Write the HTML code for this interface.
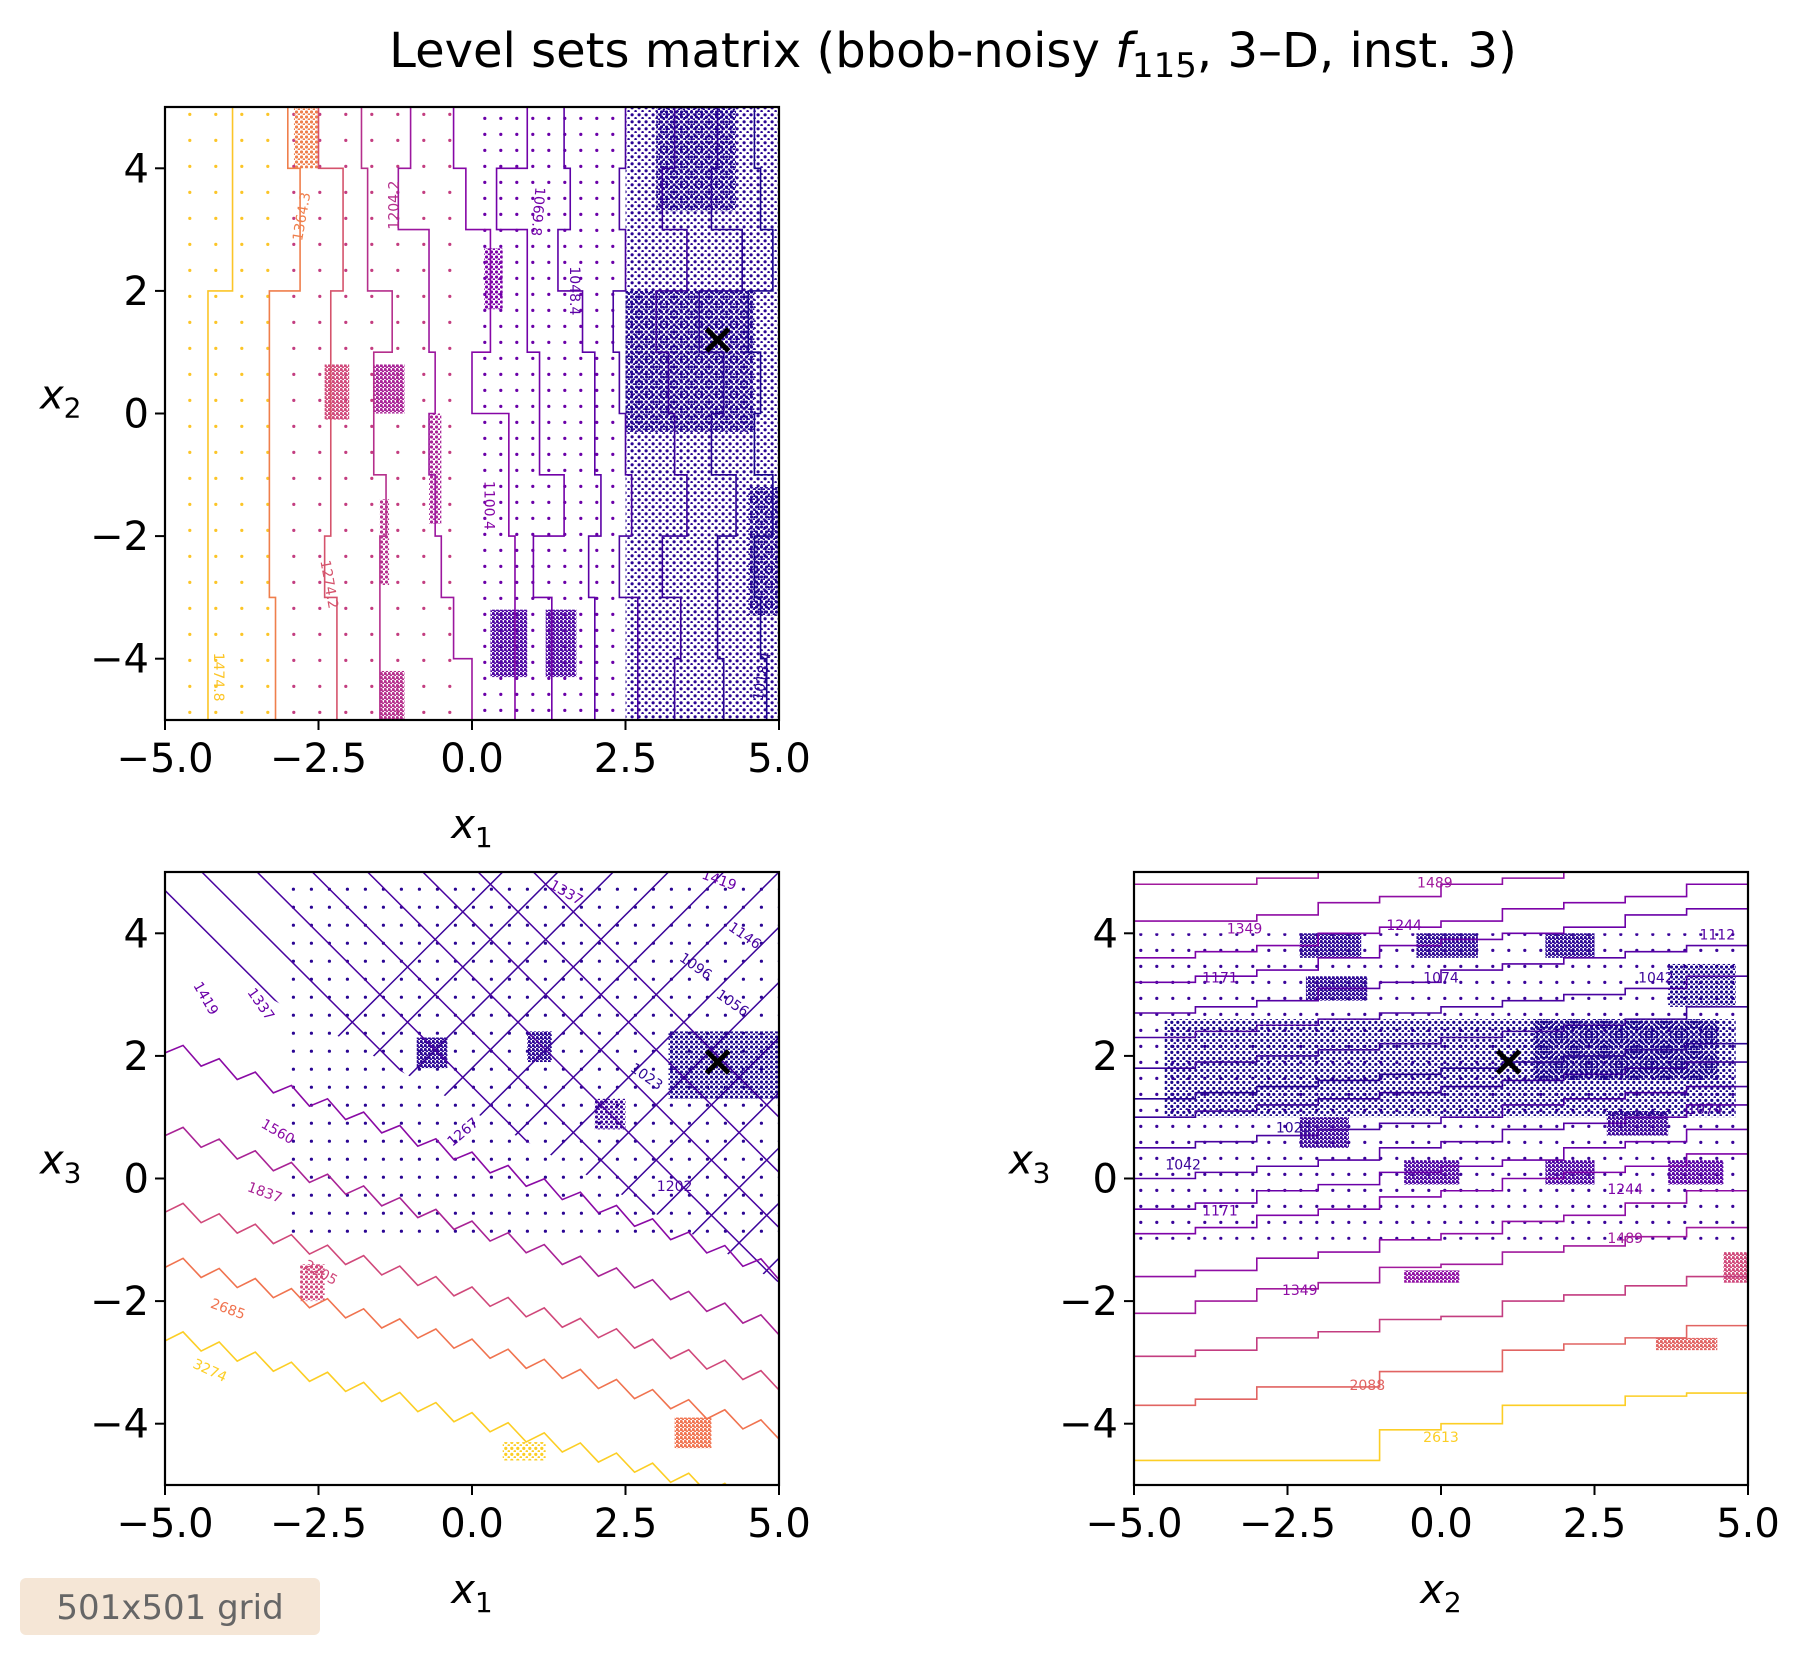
<!DOCTYPE html>
<html><head><meta charset="utf-8"><style>
html,body{margin:0;padding:0;background:#fff;overflow:hidden}
body{width:1810px;height:1654px;position:relative;overflow:hidden;font-family:"DejaVu Sans","Liberation Sans",sans-serif}
svg{display:block}
</style></head><body>
<svg id="fig" width="1810" height="1654" viewBox="0 0 1810 1654" xmlns="http://www.w3.org/2000/svg" font-family="DejaVu Sans, Liberation Sans, sans-serif">
<text x="953" y="67" font-size="48" text-anchor="middle">Level sets matrix (bbob-noisy <tspan font-style="italic">f</tspan><tspan font-size="34" dy="10">115</tspan><tspan dy="-10">, 3–D, inst. 3)</tspan></text>
<g id="panels"></g>
<rect x="20" y="1578" width="300" height="57" rx="6" fill="#f5e6d6"/>
<text x="170" y="1619" font-size="34" fill="#666" text-anchor="middle">501x501 grid</text>
</svg>
<script>
const NS="http://www.w3.org/2000/svg";
// ---- data ----
const ticks=[-5,-2.5,0,2.5,5];
const yticks=[4,2,0,-2,-4];
const tickLabels=["−5.0","−2.5","0.0","2.5","5.0"];
const ytickLabels=["4","2","0","−2","−4"];
// panel A (x1 vs x2): contour x-values per y band (top to bottom)
const aLevels=[1474.8,1364.3,1274.2,1204.2,1150,1100.4,1069.8,1048.4,1030,1015,1010,1005];
const aColors=["#fcc527","#ef7f4c","#d5536c","#b52f8c","#9c179e","#8606a6","#7201a8","#5c01a6","#4903a0","#3a049a","#2a0593","#1c068d"];
const aXs=[
[-3.9,-3.9,-3.9,-4.3,-4.3,-4.3,-4.3,-4.3,-4.3,-4.3],
[-3.0,-2.8,-2.8,-3.3,-3.3,-3.3,-3.3,-3.3,-3.2,-3.2],
[-2.5,-2.1,-2.1,-2.3,-2.3,-2.3,-2.3,-2.4,-2.2,-2.2],
[-1.8,-1.7,-1.7,-1.3,-1.6,-1.6,-1.4,-1.5,-1.5,-1.5],
[-1.0,-1.2,-0.7,-0.7,-0.6,-0.7,-0.6,-0.5,-0.3,0.0],
[-0.3,-0.1,0.3,0.3,0.0,0.6,0.6,0.7,0.7,0.7],
[0.9,0.4,0.9,0.9,1.1,1.1,1.5,1.0,1.3,1.3],
[1.5,1.6,1.4,1.8,2.0,2.0,2.1,1.9,2.0,2.0],
[2.5,2.4,2.5,2.3,2.4,2.5,2.6,2.4,2.7,2.7],
[3.3,3.1,3.5,3.0,3.2,3.3,3.5,3.1,3.4,3.3],
[4.0,3.9,4.4,3.7,4.1,3.9,4.3,4.0,4.0,4.1],
[4.6,4.7,4.9,4.5,4.7,4.6,4.9,4.6,4.7,4.8]];
const aBlocks=[[2.5,5,-5,5,"#2a0593",7],[3,4.3,3.3,5,"#1c068d",5],[2.5,4.6,-0.3,2,"#1c068d",5],[4.5,5,-3.3,-1.2,"#1c068d",5],
[0.3,0.9,-4.3,-3.2,"#4b03a1",4],[1.2,1.7,-4.3,-3.2,"#4b03a1",4],[-2.4,-2.0,-0.1,0.8,"#d0487a",4],[-1.6,-1.1,0,0.8,"#a82296",4],
[-1.5,-1.1,-5,-4.2,"#b52f8c",4],[-2.9,-2.5,4,5,"#ef7f4c",5],[0.2,0.5,1.7,2.7,"#7d03a8",5],[-0.7,-0.5,-1.8,0,"#a82296",5],
[-1.5,-1.35,-2.8,-1.4,"#b52f8c",5],[0,2.5,-5,5,"#6a00a8",16],[-3,0,-5,5,"#c33d80",26],[-5,-3,-5,5,"#fcc527",26]];
// panel B (x1 vs x3): zigzag lower contours
const bLevels=[3274,2685,2205,1837,1560];
const bColors=["#fcce25","#f0734f","#d0487a","#a92395","#8a0aa5"];
const bLeft=[-2.6,-1.4,-0.5,0.75,2.1];
const bRight=[-5.4,-4.2,-3.4,-2.5,-1.6];
const bDiagUp=[-9,-8.1,-7.2,-6.3,-5.4,-4.5,-3.6,-2.7,-1.8,-0.9,0,0.9,1.8,2.7,3.6,4.5];
const bDiagDown=[-2.5,-1.6,-0.7,0.2,1.1,2,2.9,3.8,4.7,5.6,6.5,7.4,8.3,9.2,10.1,11];
const bBlocks=[[3.2,5,1.3,2.4,"#1c068d",5],[-0.9,-0.4,1.8,2.3,"#2a0593",4],[0.9,1.3,1.9,2.4,"#2a0593",4],[3.3,3.9,-4.4,-3.9,"#f0734f",4],
[-2.8,-2.4,-2.0,-1.4,"#d0487a",5],[2.0,2.5,0.8,1.3,"#3a049a",5],[0.5,1.2,-4.6,-4.3,"#fcce25",6],[-3,5,-1,5,"#2a0593",18]];
// panel C (x2 vs x3): stepped contour y-values per x band (left to right)
const cLevels=[2613,2088,1800,1489,1349,1244,1171,1112,1074,1042,1023,1042,1074,1112,1171,1244,1349,1489];
const cColors=["#fcce25","#e16462","#c33d80","#a11a9c","#8f0da4","#7e03a8","#6a00a8","#5601a4","#4903a0","#3a049a","#2c0594","#3a049a","#4903a0","#5601a4","#6a00a8","#7e03a8","#8f0da4","#a11a9c"];
const cYs=[
[-4.6,-4.6,-4.6,-4.6,-4.1,-4.0,-3.7,-3.7,-3.55,-3.5],
[-3.7,-3.6,-3.4,-3.4,-3.15,-3.15,-2.8,-2.7,-2.6,-2.4],
[-2.9,-2.8,-2.6,-2.5,-2.3,-2.25,-2.0,-1.9,-1.75,-1.6],
[-2.2,-2.0,-1.8,-1.7,-1.45,-1.4,-1.2,-1.1,-0.95,-0.8],
[-1.6,-1.5,-1.3,-1.2,-1.0,-0.9,-0.7,-0.6,-0.4,-0.2],
[-0.9,-0.8,-0.6,-0.5,-0.3,-0.2,0.0,0.1,0.2,0.4],
[-0.5,-0.4,-0.2,-0.1,0.1,0.2,0.3,0.5,0.6,0.8],
[0.0,0.1,0.2,0.3,0.5,0.6,0.8,0.9,1.0,1.2],
[0.5,0.6,0.7,0.8,0.9,1.0,1.2,1.3,1.4,1.5],
[1.0,1.1,1.2,1.3,1.4,1.5,1.6,1.7,1.8,1.9],
[1.3,1.4,1.5,1.6,1.7,1.8,1.9,2.0,2.1,2.2],
[1.8,1.9,2.0,2.1,2.2,2.3,2.4,2.5,2.6,2.8],
[2.3,2.4,2.5,2.6,2.7,2.8,2.9,3.0,3.1,3.3],
[2.7,2.8,2.9,3.1,3.2,3.4,3.5,3.6,3.7,3.8],
[3.2,3.3,3.4,3.6,3.8,3.9,4.0,4.1,4.3,4.4],
[3.6,3.7,3.8,4.0,4.1,4.2,4.4,4.5,4.6,4.8],
[4.2,4.2,4.3,4.5,4.6,4.8,4.9,5.0,5.1,5.2],
[4.8,4.8,4.9,5.0,5.1,5.2,5.3,5.4,5.5,5.6]];
const cBlocks=[[-4.5,4.8,1.0,2.6,"#1c068d",6],[-2.3,-1.3,3.6,4.0,"#2a0593",4],[-0.4,0.6,3.6,4.0,"#2a0593",4],[1.7,2.5,3.6,4.0,"#2a0593",4],
[3.7,4.8,2.8,3.5,"#1c068d",5],[-2.3,-1.5,0.5,1.0,"#3a049a",4],[-2.2,-1.2,2.9,3.3,"#2a0593",4],[-0.6,0.3,-0.1,0.3,"#4b03a1",4],
[1.7,2.5,-0.1,0.3,"#4b03a1",4],[3.7,4.6,-0.1,0.3,"#5601a4",4],[2.7,3.7,0.7,1.1,"#3a049a",4],[-0.6,0.3,-1.7,-1.5,"#8f0da4",4],
[3.5,4.5,-2.8,-2.6,"#e16462",4],[4.6,5,-1.7,-1.2,"#d0487a",4],[1.5,4.5,1.6,2.6,"#1c068d",5],[-5,5,-1,4,"#3a049a",16]];
const optA=[4,1.2], optB=[4,1.9], optC=[1.1,1.9];

// ---- helpers ----
function el(tag,attrs,parent){const e=document.createElementNS(NS,tag);for(const k in attrs)e.setAttribute(k,attrs[k]);parent.appendChild(e);return e;}
const root=document.getElementById('panels');
const defs=el('defs',{},root);
let patId=0;
function patternFor(color,sp){const id='p'+(patId++);const p=el('pattern',{id:id,width:sp,height:sp,patternUnits:'userSpaceOnUse'},defs);
 el('circle',{cx:sp*0.3,cy:sp*0.4,r:1.6,fill:color},p);
 if(sp<=7) el('circle',{cx:sp*0.8,cy:sp*0.9,r:1.3,fill:color},p);
 return id;}
function makePanel(name,L,T,xlab,ylab){
 const W=614,H=613;
 const g=el('g',{},root);
 
 
 const sx=v=>L+(v+5)/10*W, sy=v=>T+(5-v)/10*H;
 const cid='clip'+name;const cp=el('clipPath',{id:cid},defs);el('rect',{x:L,y:T,width:W,height:H},cp);
 const plot=el('g',{'clip-path':'url(#'+cid+')'},g);
 const frame=el('rect',{x:L,y:T,width:W,height:H,fill:'none',stroke:'#000','stroke-width':2.2},g);
 
 
 ticks.forEach((t,i)=>{const x=sx(t);el('line',{x1:x,x2:x,y1:T+H,y2:T+H+10,stroke:'#000','stroke-width':2},g);
  const tx=el('text',{x:x,y:T+H+52,'font-size':40,'text-anchor':'middle'},g);tx.textContent=tickLabels[i];
  
  });
 yticks.forEach((t,i)=>{const y=sy(t);el('line',{x1:L-10,x2:L,y1:y,y2:y,stroke:'#000','stroke-width':2},g);
  const tx=el('text',{x:L-16,y:y+14,'font-size':40,'text-anchor':'end'},g);tx.textContent=ytickLabels[i];
  
  });
 const xl=el('text',{x:L+W/2,y:T+H+118,'font-size':40,'text-anchor':'middle','font-style':'italic'},g);
 xl.innerHTML='x<tspan font-size="28" dy="9" font-style="normal">'+xlab+'</tspan>';
 
 
 const yl=el('text',{x:L-125,y:T+H/2-5,'font-size':40,'font-style':'italic'},g);
 yl.innerHTML='x<tspan font-size="28" dy="9" font-style="normal">'+ylab+'</tspan>';
 
 
 return {plot,sx,sy};
}
function drawBlocks(P,blocks){blocks.slice().reverse().forEach(b=>{const id=patternFor(b[4],b[5]);
 const r=el('rect',{x:P.sx(b[0]),y:P.sy(b[3]),width:P.sx(b[1])-P.sx(b[0]),height:P.sy(b[2])-P.sy(b[3]),fill:'url(#'+id+')'},P.plot);
 
 });}
function drawX(P,pt){const x=P.sx(pt[0]),y=P.sy(pt[1]);
 const p=el('path',{d:`M${x-11},${y-11}L${x+11},${y+11}M${x-11},${y+11}L${x+11},${y-11}`,stroke:'#000','stroke-width':5},P.plot);
 
 }
function label(P,x,y,txt,color,rot){const t=el('text',{x:P.sx(x),y:P.sy(y),'font-size':14,fill:color,'text-anchor':'middle',transform:`rotate(${rot} ${P.sx(x)} ${P.sy(y)})`},P.plot);t.textContent=txt;
 
 }

// ---- panel A ----
const A=makePanel('panel-x1-x2',165,107,'1','2');
drawBlocks(A,aBlocks);
aXs.forEach((xs,i)=>{let d='';xs.forEach((x,j)=>{const y0=5-j,y1=4-j;d+=(j?'L':'M')+A.sx(x)+','+A.sy(y0)+'L'+A.sx(x)+','+A.sy(y1);});
 const p=el('path',{d:d,fill:'none',stroke:aColors[i],'stroke-width':1.6},A.plot);
 
 });
label(A,-4.2,-4.3,'1474.8','#fcc527',90);label(A,-2.7,3.2,'1364.3','#ef7f4c',-80);label(A,-2.4,-2.8,'1274.2','#d5536c',80);
label(A,-1.2,3.4,'1204.2','#b52f8c',-90);label(A,1.0,3.3,'1069.8','#7201a8',95);label(A,1.6,2.0,'1048.4','#5c01a6',90);label(A,0.2,-1.5,'1100.4','#8606a6',90);label(A,4.8,-4.3,'1018.4','#2a0593',-80);
drawX(A,optA);

// ---- panel B ----
const B=makePanel('panel-x1-x3',165,872,'1','3');
drawBlocks(B,bBlocks);
const bcid='bclip';const bcp=el('clipPath',{id:bcid},defs);
el('polygon',{points:`${B.sx(-5)},${B.sy(5)} ${B.sx(5)},${B.sy(5)} ${B.sx(5)},${B.sy(-1.7)} ${B.sx(-5)},${B.sy(3.9)}`},bcp);
const bg=el('g',{'clip-path':'url(#'+bcid+')'},B.plot);
bDiagUp.forEach(c=>{const p=el('path',{d:`M${B.sx(-5)},${B.sy(-5+c)}L${B.sx(5)},${B.sy(5+c)}`,stroke:'#3a049a','stroke-width':1.5,fill:'none'},bg);
 
 });
bDiagDown.forEach(c=>{const p=el('path',{d:`M${B.sx(-5)},${B.sy(c)}L${B.sx(5)},${B.sy(c-10)}`,stroke:'#4903a0','stroke-width':1.5,fill:'none'},bg);
 
 });
bLevels.forEach((lv,i)=>{let d='';const n=34;for(let k=0;k<=n;k++){const x=-5+10*k/n;const y=bLeft[i]+(bRight[i]-bLeft[i])*k/n+(k%2?0.18:-0.05);
 d+=(k?'L':'M')+B.sx(x)+','+B.sy(y);}
 const p=el('path',{d:d,fill:'none',stroke:bColors[i],'stroke-width':1.6},B.plot);
 
 });
label(B,-4.3,-3.2,'3274','#fcce25',25);label(B,-4.0,-2.2,'2685','#f0734f',20);label(B,-2.5,-1.6,'2205','#d0487a',30);
label(B,-3.4,-0.3,'1837','#a92395',20);label(B,-3.2,0.7,'1560','#8a0aa5',30);label(B,-4.4,2.9,'1419','#6a00a8',60);label(B,-3.5,2.8,'1337','#6a00a8',55);
label(B,-0.1,0.7,'1267','#5601a4',-40);label(B,3.3,-0.2,'1202','#4903a0',0);label(B,2.8,1.6,'1023','#2c0594',35);label(B,4.2,2.8,'1056','#3a049a',35);
label(B,3.6,3.4,'1096','#3a049a',35);label(B,4.4,3.9,'1146','#4903a0',35);label(B,1.5,4.6,'1337','#6a00a8',30);label(B,4.0,4.8,'1419','#6a00a8',20);
drawX(B,optB);

// ---- panel C ----
const C=makePanel('panel-x2-x3',1134,872,'2','3');
drawBlocks(C,cBlocks);
cYs.forEach((ys,i)=>{let d='';ys.forEach((y,j)=>{const x0=-5+j,x1=-4+j;d+=(j?'L':'M')+C.sx(x0)+','+C.sy(y)+'L'+C.sx(x1)+','+C.sy(y);});
 const p=el('path',{d:d,fill:'none',stroke:cColors[i],'stroke-width':1.6},C.plot);
 
 });
label(C,0,-4.3,'2613','#fcce25',0);label(C,-1.2,-3.45,'2088','#e16462',0);label(C,-2.3,-1.9,'1349','#8f0da4',0);label(C,3.0,-1.05,'1489','#a11a9c',0);
label(C,3.0,-0.25,'1244','#7e03a8',0);label(C,-3.6,-0.6,'1171','#6a00a8',0);label(C,-4.2,0.15,'1042','#3a049a',0);label(C,-2.4,0.75,'1023','#2c0594',0);
label(C,4.3,1.05,'1074','#4903a0',0);label(C,-3.6,3.2,'1171','#6a00a8',0);label(C,0,3.2,'1074','#4903a0',0);label(C,-3.2,4.0,'1349','#8f0da4',0);
label(C,-0.6,4.05,'1244','#7e03a8',0);label(C,-0.1,4.75,'1489','#a11a9c',0);label(C,4.5,3.9,'1112','#5601a4',0);label(C,3.5,3.2,'1042','#3a049a',0);
drawX(C,optC);
</script>
</body></html>
